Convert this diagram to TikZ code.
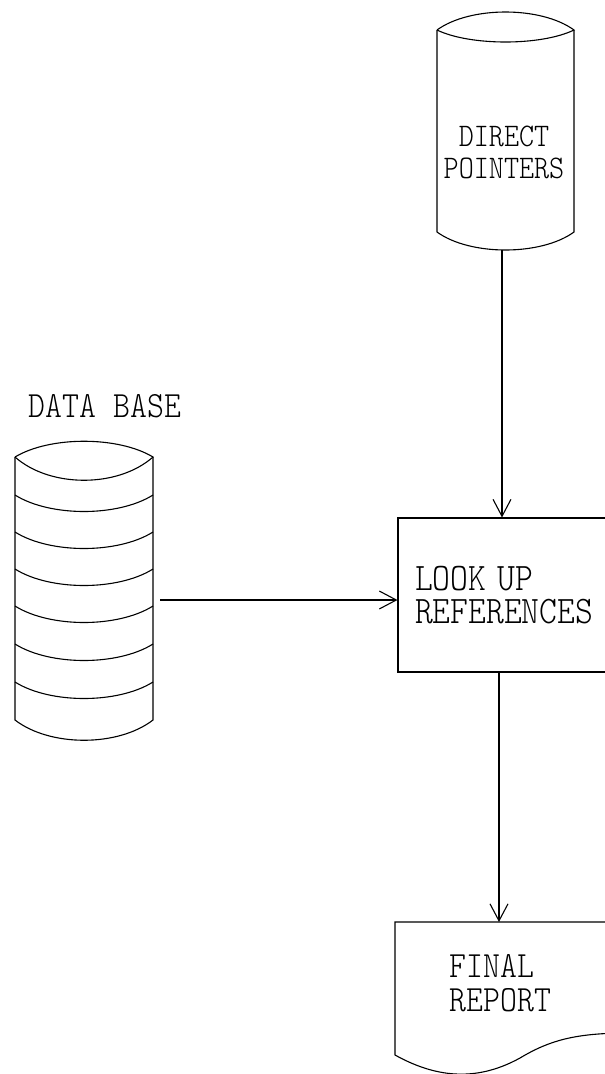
\documentclass[tikz,border=0pt]{standalone}
\usepackage{graphicx}
\usetikzlibrary{arrows.meta,positioning}

% squeeze the mono letters a little, the plotter font is narrow
\newcommand{\cond}[1]{\scalebox{0.87}[1]{#1}}

\begin{document}
\begin{tikzpicture}[x=1pt,y=-1pt,line width=1.1pt,
        every node/.style={inner sep=0pt},
        flow/.style={-{Straight Barb[length=17pt,width=18pt]}},
        lbl/.style={font=\ttfamily\fontseries{l}\fontsize{36}{33}\selectfont, align=center}]
    \useasboundingbox (0,0) rectangle (605,1074);

    % direct pointers: plain disk cylinder
    \draw (437,30) .. controls (470,6) and (541,6) .. (574,30)
          .. controls (541,46) and (470,46) .. (437,30);
    \draw (437,30) -- (437,232) .. controls (470,256) and (541,256) .. (574,232) -- (574,30);
    \node[lbl, font=\ttfamily\fontseries{l}\fontsize{33}{32}\selectfont] (ptrs) at (504,152)
        {\cond{DIRECT}\\\cond{POINTERS}};
    \coordinate (ptrs-bot) at (502,250);

    % data base: stack of disk layers
    \draw (15,457) .. controls (50,436) and (118,436) .. (153,457)
          .. controls (118,488) and (50,488) .. (15,457);
    \draw (15,457) -- (15,720) .. controls (50,747) and (118,747) .. (153,720) -- (153,457);
    \foreach \y in {495,532,569,606,644,682}
        \draw (15,\y) .. controls (50,\y+22) and (118,\y+22) .. (153,\y);
    \node[lbl, font=\ttfamily\fontseries{l}\fontsize{37}{33}\selectfont] (dblbl) at (105,406) {\cond{DATA BASE}};
    \coordinate (db-out) at (160,600);

    % process box, runs off to the right
    \node[draw, minimum width=222pt, minimum height=154pt, text width=188pt,
          inner xsep=17pt, align=left, font=\ttfamily\fontseries{l}\fontsize{39}{33}\selectfont]
        (look) at (509,595) {\cond{LOOK UP}\\\cond{REFERENCES}};

    % report: document with wavy bottom
    \draw (395,1055) -- (395,922) -- (620,922) -- (620,1033)
          .. controls (575,1034) and (550,1040) .. (520,1058)
          .. controls (480,1080) and (440,1080) .. (395,1055);
    \node[lbl, align=left, anchor=west, font=\ttfamily\fontseries{l}\fontsize{37}{34}\selectfont]
        (rep) at (449,983) {\cond{FINAL}\\\cond{REPORT}};
    \coordinate (rep-top) at (499,922);

    \draw[flow] (ptrs-bot) -- (ptrs-bot |- look.north);
    \draw[flow] (db-out) -- (db-out -| look.west);
    \draw[flow] (rep-top |- look.south) -- (rep-top);
\end{tikzpicture}
\end{document}
